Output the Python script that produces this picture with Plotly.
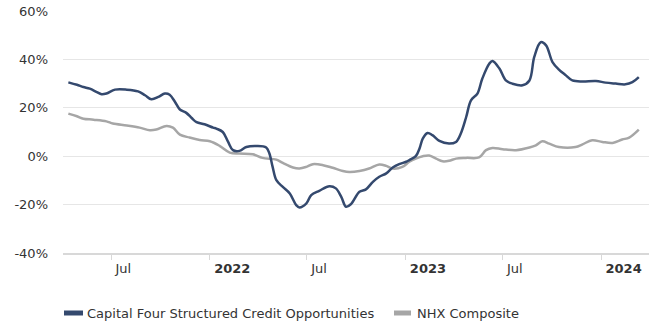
import plotly.graph_objects as go

# Capital Four Structured Credit Opportunities (cumulative return, %)
fund_dates = [
    "2021-04-12", "2021-04-28", "2021-05-10", "2021-05-22", "2021-06-04", "2021-06-13",
    "2021-06-22", "2021-07-08", "2021-07-30", "2021-08-20", "2021-09-02", "2021-09-14",
    "2021-09-27", "2021-10-09", "2021-10-18", "2021-10-28", "2021-11-06", "2021-11-18",
    "2021-11-28", "2021-12-07", "2021-12-22", "2022-01-07", "2022-01-13", "2022-01-25",
    "2022-02-04", "2022-02-13", "2022-02-25", "2022-03-10", "2022-03-29", "2022-04-16",
    "2022-04-22", "2022-04-28", "2022-05-05", "2022-05-17", "2022-05-30", "2022-06-11",
    "2022-06-17", "2022-06-30", "2022-07-09", "2022-07-24", "2022-08-12", "2022-08-24",
    "2022-09-03", "2022-09-12", "2022-09-21", "2022-10-07", "2022-10-19", "2022-11-01",
    "2022-11-13", "2022-11-26", "2022-12-08", "2022-12-20", "2023-01-02", "2023-01-08",
    "2023-01-20", "2023-01-27", "2023-02-02", "2023-02-11", "2023-02-20", "2023-03-05",
    "2023-03-23", "2023-04-05", "2023-04-14", "2023-04-24", "2023-05-03", "2023-05-15",
    "2023-05-24", "2023-06-06", "2023-06-12", "2023-06-25", "2023-07-07", "2023-07-19",
    "2023-08-07", "2023-08-20", "2023-08-29", "2023-09-10", "2023-09-20", "2023-10-02",
    "2023-10-14", "2023-10-27", "2023-11-08", "2023-11-27", "2023-12-22", "2024-01-09",
    "2024-01-28", "2024-02-15", "2024-02-28", "2024-03-11",
]
fund_values = [
    30.5, 29.5, 28.6, 27.9, 26.5, 25.6,
    25.9, 27.5, 27.5, 26.8, 25.2, 23.5,
    24.5, 25.9, 25.4, 22.4, 19.3, 17.9,
    15.8, 14.1, 13.2, 11.8, 11.4, 10.0,
    5.9, 2.5, 2.2, 3.8, 4.2, 3.6,
    1.1, -4.4, -9.9, -12.7, -15.4, -20.2,
    -21.2, -19.5, -16.1, -14.3, -12.4, -13.3,
    -16.8, -20.9, -19.8, -14.7, -13.7, -10.6,
    -8.5, -7.1, -4.7, -3.3, -2.3, -1.6,
    0.0, 3.2, 7.3, 9.6, 8.7, 6.3,
    5.2, 5.9, 9.4, 16.2, 23.1, 25.9,
    32.0, 38.2, 39.3, 36.2, 31.3, 30.0,
    29.3, 31.3, 41.0, 47.1, 45.8, 38.9,
    35.8, 33.4, 31.3, 30.9, 31.1, 30.4,
    30.0, 29.7, 30.6, 32.7,
]

# NHX Composite (cumulative return, %)
index_dates = [
    "2021-04-12", "2021-04-28", "2021-05-10", "2021-05-29", "2021-06-22", "2021-07-04",
    "2021-07-30", "2021-08-23", "2021-09-11", "2021-09-23", "2021-10-12", "2021-10-24",
    "2021-11-06", "2021-11-24", "2021-12-13", "2022-01-01", "2022-01-19", "2022-02-07",
    "2022-02-25", "2022-03-22", "2022-04-09", "2022-05-05", "2022-05-17", "2022-06-05",
    "2022-06-17", "2022-06-30", "2022-07-12", "2022-07-31", "2022-08-18", "2022-09-06",
    "2022-09-18", "2022-10-07", "2022-10-25", "2022-11-13", "2022-11-26", "2022-12-08",
    "2022-12-26", "2023-01-08", "2023-01-20", "2023-02-02", "2023-02-14", "2023-02-27",
    "2023-03-11", "2023-03-23", "2023-04-05", "2023-04-24", "2023-05-18", "2023-05-31",
    "2023-06-12", "2023-07-01", "2023-07-26", "2023-08-20", "2023-09-01", "2023-09-13",
    "2023-09-26", "2023-10-14", "2023-11-14", "2023-11-27", "2023-12-15", "2024-01-03",
    "2024-01-22", "2024-02-09", "2024-02-22", "2024-03-11",
]
index_values = [
    17.6, 16.5, 15.5, 15.1, 14.4, 13.5,
    12.7, 11.8, 10.7, 11.0, 12.5, 11.8,
    8.9, 7.7, 6.7, 6.2, 4.3, 1.5,
    1.1, 0.8, -0.7, -1.4, -2.8, -4.7,
    -5.1, -4.4, -3.3, -3.7, -4.8, -6.1,
    -6.5, -6.1, -5.1, -3.4, -4.0, -5.1,
    -4.4, -2.3, -1.0, 0.0, 0.3, -1.0,
    -2.1, -1.9, -1.0, -0.7, -0.5, 2.5,
    3.4, 2.9, 2.5, 3.6, 4.5, 6.2,
    5.2, 3.8, 3.8, 4.9, 6.6, 5.9,
    5.5, 6.9, 7.7, 11.0,
]

x_tick_dates = ["2021-07-01", "2022-01-01", "2022-07-01", "2023-01-01", "2023-07-01", "2024-01-01"]
x_tick_labels = ["Jul", "2022", "Jul", "2023", "Jul", "2024"]
y_ticks = [-40, -20, 0, 20, 40, 60]

series_names = ["Capital Four Structured Credit Opportunities", "NHX Composite"]
series_colors = ["#34496e", "#a6a6a6"]

FONT = "DejaVu Sans"
TEXT_COLOR = "#333333"

# plot area in pixels
PL, PR, PT, PB = 63, 12, 11, 73
W, H = 661, 326
PW, PH = W - PL - PR, H - PT - PB

fig = go.Figure()
fig.add_trace(go.Scatter(
    x=index_dates, y=index_values, mode="lines", name=series_names[1],
    line=dict(color=series_colors[1], width=2.5, shape="spline", smoothing=1.0),
    showlegend=False, hoverinfo="skip",
))
fig.add_trace(go.Scatter(
    x=fund_dates, y=fund_values, mode="lines", name=series_names[0],
    line=dict(color=series_colors[0], width=2.5, shape="spline", smoothing=1.0),
    showlegend=False, hoverinfo="skip",
))

# year labels in bold, month labels regular
tick_text = [f"<b>{t}</b>" if t.isdigit() else t for t in x_tick_labels]

fig.update_layout(
    width=W, height=H,
    margin=dict(l=PL, r=PR, t=PT, b=PB, autoexpand=False),
    paper_bgcolor="white", plot_bgcolor="white",
    font=dict(family=FONT, size=13, color=TEXT_COLOR),
    xaxis=dict(
        range=["2021-04-02", "2024-03-30"],
        tickmode="array", tickvals=x_tick_dates, ticktext=tick_text,
        ticks="outside", ticklen=5, tickcolor="#d8d8d8", tickwidth=1,
        ticklabelposition="outside right", ticklabelshift=3, ticklabelstandoff=3,
        showline=True, linecolor="#d8d8d8", linewidth=1.5,
        showgrid=False, zeroline=False, automargin=False,
        tickfont=dict(family=FONT, size=13, color=TEXT_COLOR),
    ),
    yaxis=dict(
        range=[-40, 60],
        tickmode="array", tickvals=y_ticks, ticktext=[f"{v}%" for v in y_ticks],
        showgrid=True, gridcolor="#e6e6e6", gridwidth=1,
        zeroline=False, showline=False, automargin=False,
        ticklabelstandoff=14,
        tickfont=dict(family=FONT, size=13, color=TEXT_COLOR),
    ),
)

# legend row below the plot
legend_items = [
    (64, 83, 86.5, series_names[0], series_colors[0]),
    (394, 411, 416.5, series_names[1], series_colors[1]),
]
legend_y = 313
for x0, x1, tx, name, color in legend_items:
    fig.add_shape(
        type="rect", xref="paper", yref="paper",
        x0=(x0 - PL) / PW, x1=(x1 - PL) / PW,
        y0=(H - PB - (legend_y + 2.5)) / PH, y1=(H - PB - (legend_y - 2.5)) / PH,
        fillcolor=color, line=dict(width=0),
    )
    fig.add_annotation(
        xref="paper", yref="paper", x=(tx - PL) / PW, y=(H - PB - legend_y) / PH,
        text=name, showarrow=False, xanchor="left", yanchor="middle",
        xshift=-2,
        font=dict(family=FONT, size=13, color=TEXT_COLOR),
    )

fig.write_html("out.html")
